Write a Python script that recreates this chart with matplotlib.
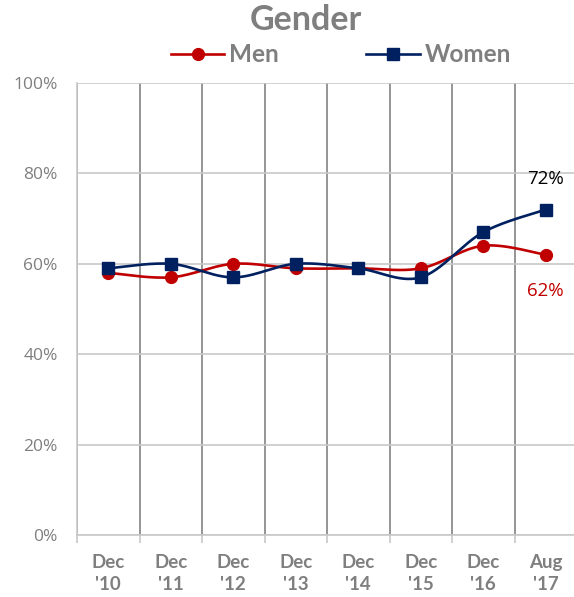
import numpy as np
import matplotlib.pyplot as plt
from matplotlib.lines import Line2D

plt.rcParams['font.family'] = ['Lato', 'DejaVu Sans']

# Data
periods = ["Dec\n'10", "Dec\n'11", "Dec\n'12", "Dec\n'13", "Dec\n'14", "Dec\n'15", "Dec\n'16", "Aug\n'17"]
men = [58, 57, 60, 59, 59, 59, 64, 62]
women = [59, 60, 57, 60, 59, 57, 67, 72]

red = "#C00000"
navy = "#002060"
gray = "#7F7F7F"


def smooth(xs, ys, n=30):
    # Excel-style smoothed line: cubic Bezier with Catmull-Rom control points
    pts = np.column_stack([xs, ys]).astype(float)
    out = []
    for i in range(len(pts) - 1):
        p0 = pts[i - 1] if i > 0 else pts[i]
        p1 = pts[i]
        p2 = pts[i + 1]
        p3 = pts[i + 2] if i + 2 < len(pts) else pts[i + 1]
        c1 = p1 + (p2 - p0) / 6
        c2 = p2 - (p3 - p1) / 6
        t = np.linspace(0, 1, n)[:, None]
        seg = ((1 - t) ** 3) * p1 + 3 * ((1 - t) ** 2) * t * c1 + 3 * (1 - t) * t ** 2 * c2 + t ** 3 * p2
        out.append(seg if i == 0 else seg[1:])
    out = np.vstack(out)
    return out[:, 0], out[:, 1]


fig = plt.figure(figsize=(5.74, 5.97), dpi=100)
ax = fig.add_axes([77 / 574, 62 / 597, 500 / 574, 452 / 597])

x = np.arange(len(periods))

sx, sy = smooth(x, men)
ax.plot(sx, sy, color=red, linewidth=1.9, zorder=3)
ax.plot(x, men, linestyle="none", marker="o", markersize=8.5, color=red, zorder=4)

sx, sy = smooth(x, women)
ax.plot(sx, sy, color=navy, linewidth=1.9, zorder=3)
ax.plot(x, women, linestyle="none", marker="s", markersize=8.5, color=navy, zorder=5)

ax.annotate(f"{women[-1]}%", (x[-1], women[-1]), xytext=(0, 22), textcoords="offset points",
            ha="center", va="center", fontsize=13.5, color="black", family=["Open Sans", "DejaVu Sans"])
ax.annotate(f"{men[-1]}%", (x[-1], men[-1]), xytext=(0, -26), textcoords="offset points",
            ha="center", va="center", fontsize=13.5, color=red, family=["Open Sans", "DejaVu Sans"])

ax.set_xlim(-0.5, len(periods) - 0.5)
ax.set_ylim(0, 100)
ax.set_yticks(range(0, 101, 20))
ax.set_yticklabels([f"{v}%" for v in range(0, 101, 20)], color=gray, fontsize=12.5,
                   family=["Open Sans", "DejaVu Sans"])
ax.set_xticks(x)
ax.set_xticklabels(periods, color=gray, fontsize=13.5, fontweight="bold", linespacing=1.35)
ax.set_xticks(np.arange(-0.5, len(periods), 1), minor=True)

ax.grid(axis="y", color="#C8C8C8", linewidth=1.2)
ax.grid(axis="x", which="minor", color="#8C8C8C", linewidth=1.3)
ax.grid(axis="x", which="major", visible=False)
ax.tick_params(axis="x", which="major", length=0, pad=14)
ax.tick_params(axis="x", which="minor", length=6, color="#C8C8C8", width=1.2)
ax.tick_params(axis="y", length=0, pad=14)
ax.set_axisbelow(True)

for s in ["top", "right"]:
    ax.spines[s].set_visible(False)
ax.spines["left"].set_color("#C8C8C8")
ax.spines["left"].set_linewidth(1.2)
ax.spines["bottom"].set_color("#C8C8C8")
ax.spines["bottom"].set_linewidth(1.2)

fig.text(306 / 574, 1 - 20 / 597, "Gender", ha="center", va="center", fontsize=24.5,
         fontweight="bold", color=gray)

handles = [Line2D([], [], color=red, marker="o", markersize=8.5, linewidth=1.9),
           Line2D([], [], color=navy, marker="s", markersize=8.5, linewidth=1.9)]
fig.legend(handles, ["Men", "Women"], loc="center", bbox_to_anchor=(341 / 574, 1 - 55 / 597),
           ncol=2, frameon=False, handlelength=2.2, handletextpad=0.2, columnspacing=3.6,
           prop={"weight": "bold", "size": 17.5}, labelcolor=gray)

fig.savefig("out.png", dpi=100)
